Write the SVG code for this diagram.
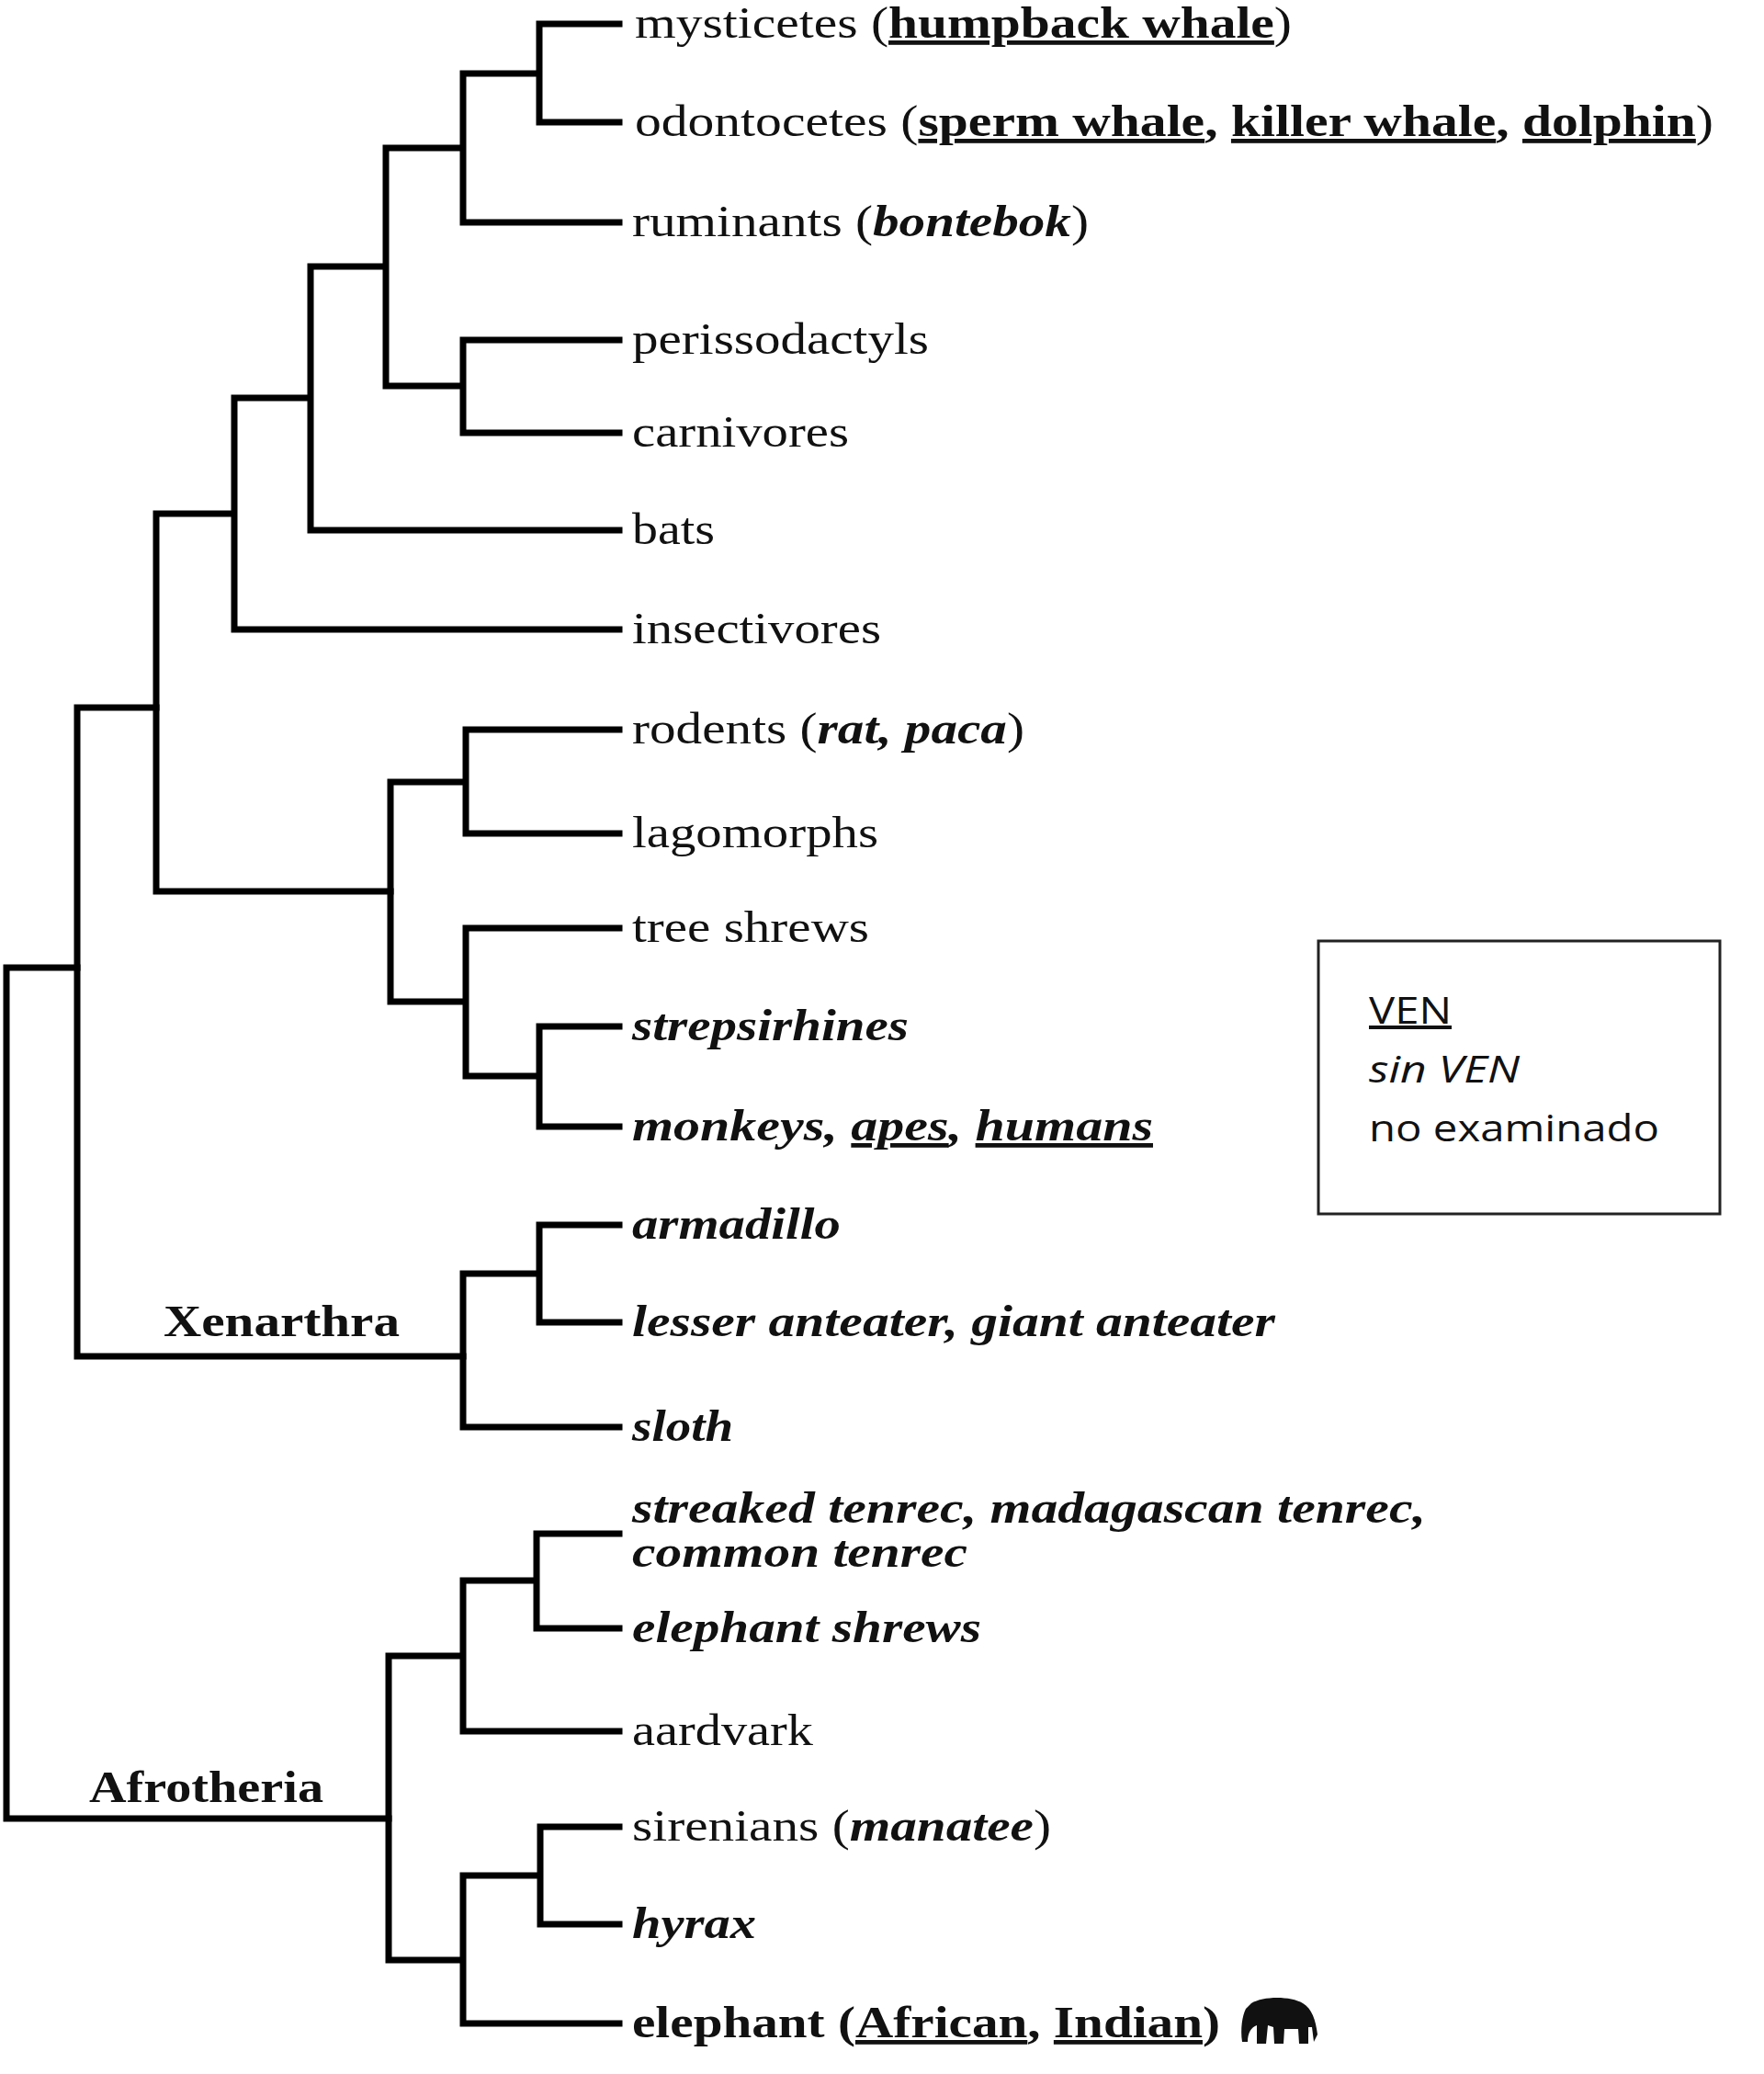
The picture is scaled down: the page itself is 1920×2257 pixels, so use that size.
<svg xmlns="http://www.w3.org/2000/svg" width="1920" height="2257" viewBox="0 0 1920 2257">
<style>
.e{fill:none;stroke:#000;stroke-width:7;stroke-linecap:square}
.t{font-family:"Liberation Serif",serif;font-size:48px;fill:#111}
.b{font-weight:bold}.i{font-style:italic}.u{text-decoration:underline}
.l{font-family:"Open Sans","Liberation Sans",sans-serif;font-size:40px;fill:#111}
</style>
<rect width="1920" height="2257" fill="#fff"/>
<g id="connectors" class="e">
<path d="M674 26H587V133H674M587 80H504V242H674M504 161H420V420H504M674 370H504V471H674M420 290H338V577H674M338 433H255V685H674M255 559H170V970H425"/>
<path d="M674 794H507V907H674M507 851H425V1090H507M674 1010H507V1171H587M674 1117H587V1226H674M170 770H84V1476H504"/>
<path d="M674 1333H587V1439H674M587 1386H504V1553H674M84 1053H7V1979H423"/>
<path d="M674 1669H584V1772H674M584 1720H504V1884H674M504 1802H423V2133H504M674 1988H588V2094H674M588 2041H504V2202H674"/>
</g>
<g id="leaves" class="t">
<text x="691" y="41" textLength="715" lengthAdjust="spacingAndGlyphs">mysticetes (<tspan class="b u">humpback whale</tspan>)</text>
<text x="691" y="148" textLength="1174" lengthAdjust="spacingAndGlyphs">odontocetes (<tspan class="b u">sperm whale</tspan><tspan class="b">, </tspan><tspan class="b u">killer whale</tspan><tspan class="b">, </tspan><tspan class="b u">dolphin</tspan>)</text>
<text x="688" y="257" textLength="497" lengthAdjust="spacingAndGlyphs">ruminants (<tspan class="b i">bontebok</tspan>)</text>
<text x="688" y="385" textLength="323" lengthAdjust="spacingAndGlyphs">perissodactyls</text>
<text x="688" y="486" textLength="236" lengthAdjust="spacingAndGlyphs">carnivores</text>
<text x="688" y="592" textLength="90" lengthAdjust="spacingAndGlyphs">bats</text>
<text x="688" y="700" textLength="271" lengthAdjust="spacingAndGlyphs">insectivores</text>
<text x="688" y="809" textLength="427" lengthAdjust="spacingAndGlyphs">rodents (<tspan class="b i">rat, paca</tspan>)</text>
<text x="688" y="922" textLength="268" lengthAdjust="spacingAndGlyphs">lagomorphs</text>
<text x="688" y="1025" textLength="258" lengthAdjust="spacingAndGlyphs">tree shrews</text>
<text x="688" y="1132" class="b i" textLength="301" lengthAdjust="spacingAndGlyphs">strepsirhines</text>
<text x="688" y="1241" class="b i" textLength="567" lengthAdjust="spacingAndGlyphs">monkeys, <tspan class="u">apes</tspan>, <tspan class="u">humans</tspan></text>
<text x="688" y="1348" class="b i" textLength="227" lengthAdjust="spacingAndGlyphs">armadillo</text>
<text x="688" y="1454" class="b i" textLength="700" lengthAdjust="spacingAndGlyphs">lesser anteater, giant anteater</text>
<text x="688" y="1568" class="b i" textLength="110" lengthAdjust="spacingAndGlyphs">sloth</text>
<text x="688" y="1657" class="b i" textLength="864" lengthAdjust="spacingAndGlyphs">streaked tenrec, madagascan tenrec,</text>
<text x="688" y="1705" class="b i" textLength="365" lengthAdjust="spacingAndGlyphs">common tenrec</text>
<text x="688" y="1787" class="b i" textLength="380" lengthAdjust="spacingAndGlyphs">elephant shrews</text>
<text x="688" y="1899" textLength="197" lengthAdjust="spacingAndGlyphs">aardvark</text>
<text x="688" y="2003" textLength="456" lengthAdjust="spacingAndGlyphs">sirenians (<tspan class="b i">manatee</tspan>)</text>
<text x="688" y="2109" class="b i" textLength="135" lengthAdjust="spacingAndGlyphs">hyrax</text>
<text x="688" y="2217" class="b" textLength="640" lengthAdjust="spacingAndGlyphs">elephant (<tspan class="u">African</tspan>, <tspan class="u">Indian</tspan>)</text>
</g>
<g id="clades" class="t b">
<text x="178" y="1454" textLength="257" lengthAdjust="spacingAndGlyphs">Xenarthra</text>
<text x="97" y="1961" textLength="255" lengthAdjust="spacingAndGlyphs">Afrotheria</text>
</g>
<g id="elephant-icon">
<path d="M1362 2180 C1375 2172 1405 2172 1418 2180 C1428 2186 1432 2198 1434 2214 L1430 2222 L1428 2206 L1424 2206 L1424 2224 L1414 2224 L1413 2208 L1398 2208 L1397 2224 L1387 2224 L1386 2206 L1380 2204 L1378 2224 L1368 2224 L1368 2204 C1362 2206 1358 2212 1358 2222 L1352 2222 C1350 2208 1352 2194 1356 2186 Z" fill="#111"/>
</g>
<g id="legend">
<rect x="1435" y="1024" width="437" height="297" fill="#fff" stroke="#222" stroke-width="3"/>
<text x="1490" y="1114" class="l u" textLength="90" lengthAdjust="spacingAndGlyphs">VEN</text>
<text x="1490" y="1178" class="l i" textLength="164" lengthAdjust="spacingAndGlyphs">sin VEN</text>
<text x="1490" y="1242" class="l" textLength="316" lengthAdjust="spacingAndGlyphs">no examinado</text>
</g>
</svg>
